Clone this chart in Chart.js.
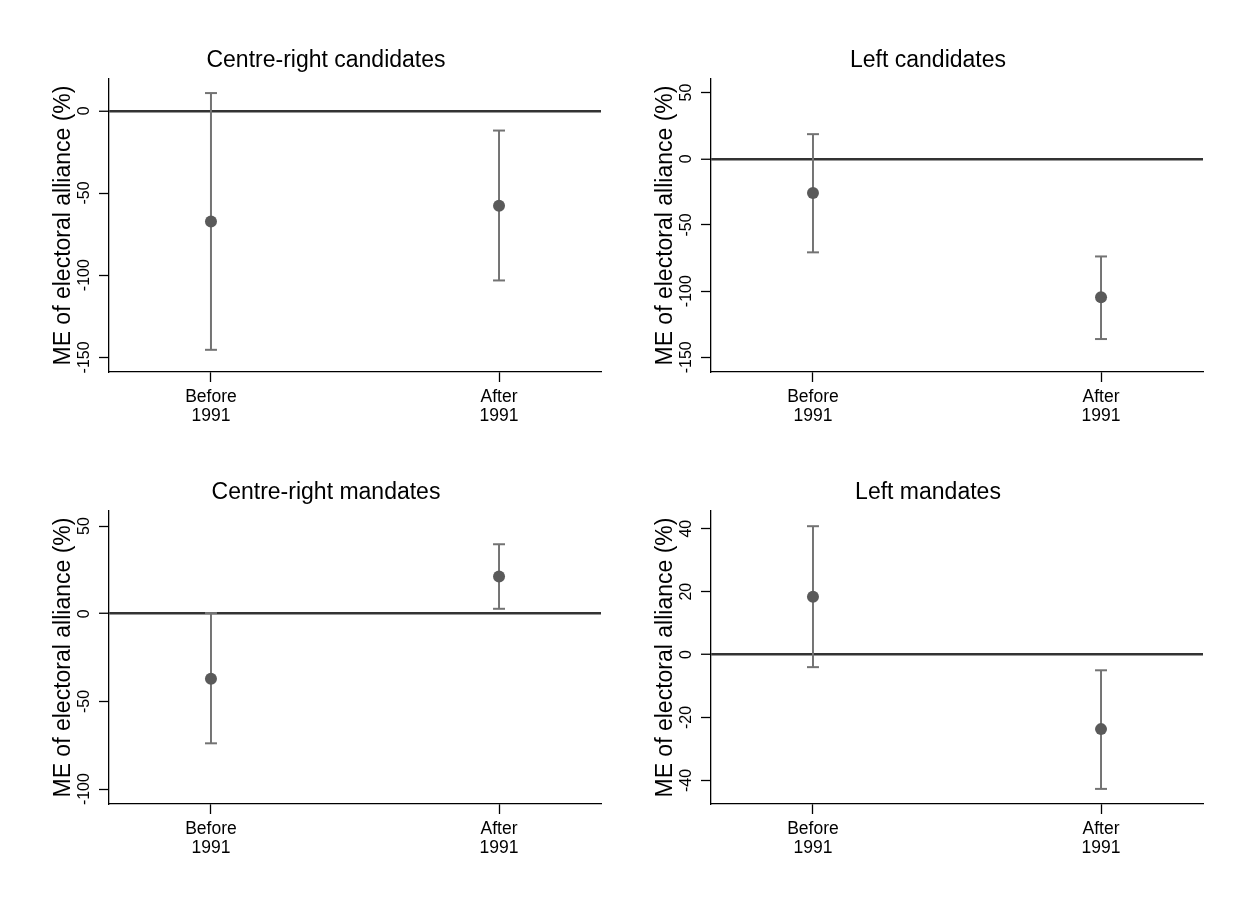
<!DOCTYPE html>
<html>
<head>
<meta charset="utf-8">
<script src="https://cdn.jsdelivr.net/npm/chart.js@4.4.0/dist/chart.umd.min.js"></script>
<style>
body { margin: 0; background: #fff; }
#wrap { position: relative; width: 1247px; height: 905px; background: #fff; }
.panel { position: absolute; }
</style>
</head>
<body>
<div id="wrap">
  <canvas id="crCand" class="panel" width="623" height="452" style="left:0px;top:0px"></canvas>
  <canvas id="leftCand" class="panel" width="623" height="452" style="left:602px;top:0px"></canvas>
  <canvas id="crMand" class="panel" width="623" height="452" style="left:0px;top:432px"></canvas>
  <canvas id="leftMand" class="panel" width="623" height="452" style="left:602px;top:432px"></canvas>
</div>
<script>
const FONT = "'Liberation Sans', Arial, sans-serif";

const categories = [['Before', '1991'], ['After', '1991']];
const yTitle = 'ME of electoral alliance (%)';

// Centre-right candidates
const crCandEst = [-67.3, -57.8];
const crCandLow = [-145.4, -103.2];
const crCandHigh = [10.8, -12.0];
const crCandTicks = [-150, -100, -50, 0];

// Left candidates
const leftCandEst = [-25.9, -104.7];
const leftCandLow = [-70.7, -136.2];
const leftCandHigh = [18.6, -73.8];
const leftCandTicks = [-150, -100, -50, 0, 50];

// Centre-right mandates
const crMandEst = [-37.1, 21.2];
const crMandLow = [-73.9, 2.8];
const crMandHigh = [0.4, 39.6];
const crMandTicks = [-100, -50, 0, 50];

// Left mandates
const leftMandEst = [18.4, -23.7];
const leftMandLow = [-4.0, -42.7];
const leftMandHigh = [40.8, -5.0];
const leftMandTicks = [-40, -20, 0, 20, 40];

function makePanel(id, title, est, low, high, yTicks, yMin, yMax, tickPad) {
    let ctx = document.getElementById(id).getContext('2d');

    // dots first so they are drawn on top of the bars
    let datasets = [{
        data: est.map((v, i) => ({x: i + 1, y: v})),
        showLine: false,
        pointRadius: 6,
        pointBackgroundColor: '#5a5a5a',
        pointBorderColor: '#5a5a5a',
        pointBorderWidth: 0
    }];
    for (let i = 0; i < est.length; i++) {
        datasets.push({
            data: [{x: i + 1, y: low[i]}, {x: i + 1, y: high[i]}],
            showLine: true,
            borderColor: '#737373',
            borderWidth: 2,
            pointStyle: 'line',
            pointRadius: 6,
            pointBorderColor: '#737373',
            pointBorderWidth: 2
        });
    }

    new Chart(ctx, {
        type: 'scatter',
        data: {datasets: datasets},
        options: {
            responsive: false,
            animation: false,
            layout: {padding: {left: 51, right: 22, top: 0, bottom: 10}},
            plugins: {
                legend: {display: false},
                tooltip: {enabled: false},
                title: {
                    display: true,
                    text: title,
                    color: '#000',
                    font: {family: FONT, size: 23, weight: 'normal'},
                    padding: {top: 47, bottom: 4.5}
                }
            },
            scales: {
                x: {
                    type: 'linear',
                    min: 0.646,
                    max: 2.354,
                    afterBuildTicks: s => { s.ticks = categories.map((c, i) => ({value: i + 1})); },
                    afterFit: s => { s.height = 70; },
                    ticks: {
                        callback: v => categories[v - 1],
                        color: '#000',
                        font: {family: FONT, size: 17.5, lineHeight: 1.09},
                        padding: 6,
                        maxRotation: 0,
                        autoSkip: false
                    },
                    grid: {drawOnChartArea: false, tickLength: 10, tickColor: '#000', tickWidth: 1.3},
                    border: {color: '#000', width: 1.3}
                },
                y: {
                    min: yMin,
                    max: yMax,
                    afterBuildTicks: s => { s.ticks = yTicks.map(v => ({value: v})); },
                    afterFit: s => { s.width = 58; },
                    title: {
                        display: true,
                        text: yTitle,
                        color: '#000',
                        font: {family: FONT, size: 23, lineHeight: 1.0},
                        padding: {top: 1, bottom: 0}
                    },
                    ticks: {
                        callback: v => String(v),
                        color: '#000',
                        font: {family: FONT, size: 16},
                        minRotation: 90,
                        maxRotation: 90,
                        crossAlign: 'center',
                        padding: tickPad
                    },
                    grid: {
                        color: c => (c.tick && c.tick.value === 0) ? '#333333' : 'rgba(0,0,0,0)',
                        lineWidth: c => (c.tick && c.tick.value === 0) ? 2.5 : 1,
                        tickLength: 10,
                        tickColor: '#000',
                        tickWidth: 1.3
                    },
                    border: {color: '#000', width: 1.3}
                }
            }
        }
    });
}

makePanel('crCand', 'Centre-right candidates', crCandEst, crCandLow, crCandHigh, crCandTicks, -158.9, 19.3, -2);
makePanel('leftCand', 'Left candidates', leftCandEst, leftCandLow, leftCandHigh, leftCandTicks, -161.1, 60.2, -2);
makePanel('crMand', 'Centre-right mandates', crMandEst, crMandLow, crMandHigh, crMandTicks, -108.5, 58.5, -2);
makePanel('leftMand', 'Left mandates', leftMandEst, leftMandLow, leftMandHigh, leftMandTicks, -47.5, 45.6, 2.5);
</script>
</body>
</html>
